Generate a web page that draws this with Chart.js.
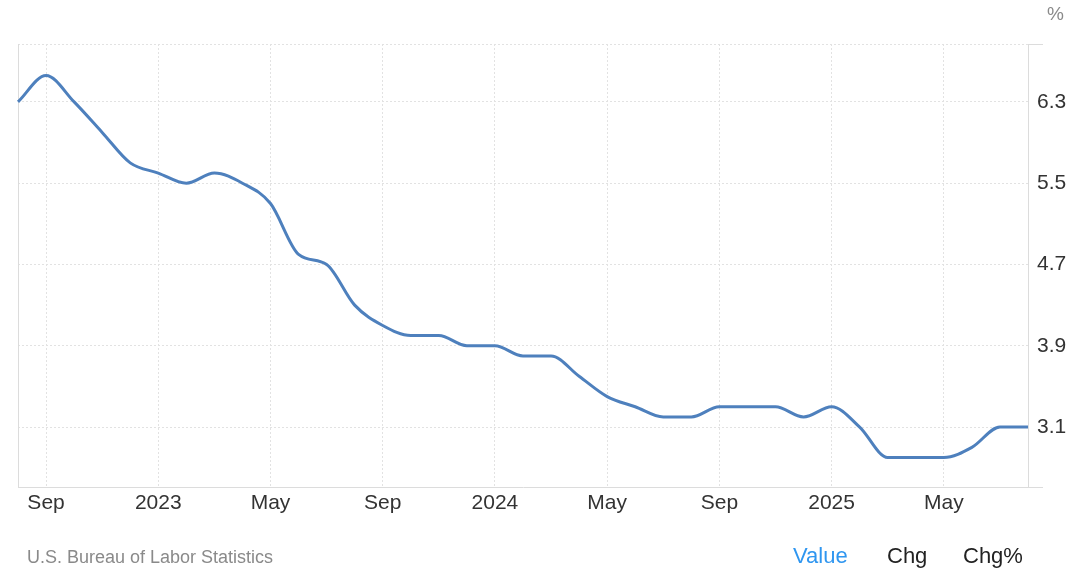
<!DOCTYPE html>
<html>
<head>
<meta charset="utf-8">
<script src="https://cdn.jsdelivr.net/npm/chart.js@4.4.1/dist/chart.umd.min.js"></script>
<style>
  body { margin: 0; background: #fff; font-family: "Liberation Sans", Arial, sans-serif; }
  #wrap { position: relative; width: 1083px; height: 586px; }
  #unit { position: absolute; left: 1047px; top: 3px; font-size: 19px; color: #8a8a8a; }
  #source { position: absolute; left: 27px; top: 547px; font-size: 18px; color: #8a8a8a; }
  .tab { position: absolute; top: 543px; font-size: 22px; color: #222; }
</style>
</head>
<body>
<div id="wrap">
  <canvas id="chart" width="1083" height="586"></canvas>
  <div id="unit">%</div>
  <div id="source">U.S. Bureau of Labor Statistics</div>
  <div class="tab" style="left:793px;color:#2f96f0">Value</div>
  <div class="tab" style="left:887px">Chg</div>
  <div class="tab" style="left:963px">Chg%</div>
</div>
<script>
// месяцы Aug 2022 - Aug 2025
const months = [
  "2022-08", "2022-09", "2022-10", "2022-11", "2022-12",
  "2023-01", "2023-02", "2023-03", "2023-04", "2023-05", "2023-06",
  "2023-07", "2023-08", "2023-09", "2023-10", "2023-11", "2023-12",
  "2024-01", "2024-02", "2024-03", "2024-04", "2024-05", "2024-06",
  "2024-07", "2024-08", "2024-09", "2024-10", "2024-11", "2024-12",
  "2025-01", "2025-02", "2025-03", "2025-04", "2025-05", "2025-06",
  "2025-07", "2025-08"
];
const values = [
  6.3, 6.56, 6.3, 6.0, 5.7,
  5.6, 5.5, 5.6, 5.5, 5.3, 4.8,
  4.7, 4.3, 4.1, 4.0, 4.0, 3.9,
  3.9, 3.8, 3.8, 3.6, 3.4, 3.3,
  3.2, 3.2, 3.3, 3.3, 3.3, 3.2,
  3.3, 3.1, 2.8, 2.8, 2.8, 2.9,
  3.1, 3.1
];
const yTicks = [3.1, 3.9, 4.7, 5.5, 6.3];
const yMin = 2.51;
const yMax = 6.87;

const monthNames = ["Jan", "Feb", "Mar", "Apr", "May", "Jun", "Jul", "Aug", "Sep", "Oct", "Nov", "Dec"];
function tickText(i) {
  const [y, m] = months[i].split("-").map(Number);
  if (m === 1) return String(y);
  if (m === 5 || m === 9) return monthNames[m - 1];
  return "";
}

// рамка: левая линия, хвосты справа у верхней и нижней линии
const frame = {
  id: "frame",
  beforeDatasetsDraw(chart) {
    const { ctx, chartArea } = chart;
    ctx.save();
    ctx.strokeStyle = "#dcdcdc";
    ctx.lineWidth = 1;
    ctx.beginPath();
    ctx.moveTo(chartArea.left + 0.5, chartArea.top);
    ctx.lineTo(chartArea.left + 0.5, chartArea.bottom);
    ctx.moveTo(chartArea.right, chartArea.top + 0.5);
    ctx.lineTo(chartArea.right + 15, chartArea.top + 0.5);
    ctx.moveTo(chartArea.right, chartArea.bottom + 0.5);
    ctx.lineTo(chartArea.right + 15, chartArea.bottom + 0.5);
    ctx.stroke();
    ctx.restore();
  },
};

const font = { family: '"Liberation Sans", Arial, sans-serif', size: 21 };

new Chart(document.getElementById("chart").getContext("2d"), {
  type: "line",
  plugins: [frame],
  data: {
    labels: months,
    datasets: [{
      data: values,
      borderColor: "#4e80bd",
      borderWidth: 3,
      pointRadius: 0,
      cubicInterpolationMode: "monotone",
      fill: false,
    }],
  },
  options: {
    responsive: false,
    animation: false,
    layout: { padding: { left: 18, top: 44, right: 0, bottom: 69 } },
    plugins: { legend: { display: false }, tooltip: { enabled: false } },
    scales: {
      x: {
        offset: false,
        grid: {
          drawTicks: false,
          color: (c) => (c.index !== undefined && tickText(c.index) !== "" ? "#e2e2e2" : "transparent"),
        },
        border: { display: true, color: "#dcdcdc", dash: [2, 2] },
        ticks: {
          autoSkip: false,
          maxRotation: 0,
          padding: 4,
          color: "#333",
          font: font,
          callback: (v, i) => tickText(i),
        },
        afterFit: (scale) => { scale.height = 30; },
      },
      y: {
        position: "right",
        min: yMin,
        max: yMax,
        afterBuildTicks: (scale) => {
          scale.ticks = yTicks.concat([yMax]).map((v) => ({ value: v }));
        },
        grid: { drawTicks: false, color: "#e2e2e2" },
        border: { display: true, color: "#dcdcdc", dash: [2, 2] },
        ticks: {
          padding: 9,
          color: "#333",
          font: font,
          callback: (v) => (yTicks.includes(v) ? v.toFixed(1) : ""),
        },
        afterFit: (scale) => { scale.width = 55; },
      },
    },
  },
});
</script>
</body>
</html>
